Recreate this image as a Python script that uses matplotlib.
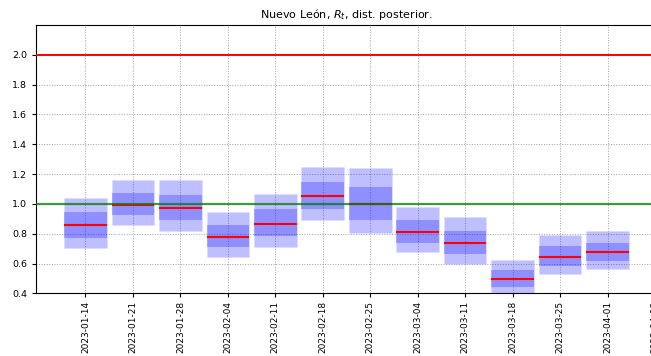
import numpy as np
import matplotlib
matplotlib.use('Agg')
from matplotlib import pyplot as plt
import matplotlib.dates as mdates

# weekly posterior summaries of R_t
fechas = ['2023-01-14', '2023-01-21', '2023-01-28', '2023-02-04', '2023-02-11', '2023-02-18',
          '2023-02-25', '2023-03-04', '2023-03-11', '2023-03-18', '2023-03-25', '2023-04-01']
q05 = [0.707, 0.859, 0.819, 0.646, 0.709, 0.893, 0.807, 0.676, 0.595, 0.380, 0.528, 0.562]
q25 = [0.774, 0.926, 0.893, 0.709, 0.785, 0.968, 0.893, 0.740, 0.662, 0.443, 0.584, 0.617]
q50 = [0.857, 0.995, 0.971, 0.779, 0.868, 1.054, 0.998, 0.812, 0.738, 0.495, 0.644, 0.676]
q75 = [0.944, 1.072, 1.060, 0.857, 0.964, 1.148, 1.114, 0.893, 0.821, 0.555, 0.718, 0.740]
q95 = [1.038, 1.159, 1.159, 0.944, 1.069, 1.246, 1.240, 0.980, 0.913, 0.622, 0.794, 0.819]
ticks = ['2023-01-14', '2023-01-21', '2023-01-28', '2023-02-04', '2023-02-11', '2023-02-18',
         '2023-02-25', '2023-03-04', '2023-03-11', '2023-03-18', '2023-03-25', '2023-04-01',
         '2023-04-08']

x = mdates.datestr2num(fechas)
q05, q25, q50, q75, q95 = map(np.array, (q05, q25, q50, q75, q95))
w = 6.3  # box width in days

fig = plt.figure(figsize=(6.51, 3.56), dpi=100)
ax = fig.add_axes([36/651, 62.6/356, 621/651, 268.4/356])

ax.grid(linestyle=':', color='#a0a0a0', linewidth=0.7, zorder=0)
# outer band 5-95 and inner band 25-75
ax.bar(x, q95 - q05, bottom=q05, width=w, color='blue', alpha=0.25,
       edgecolor=(0.85, 0.85, 1.0), linewidth=0.8, zorder=2)
ax.bar(x, q75 - q25, bottom=q25, width=w, color='blue', alpha=0.25,
       linewidth=0, zorder=2)
ax.hlines(q50, x - w/2, x + w/2, color='red', linewidth=1.5, zorder=3)

ax.axhline(2.0, color='red', linewidth=1.4, zorder=3)
ax.axhline(1.0, color='green', alpha=0.75, linewidth=1.6, zorder=3)

ax.set_xlim(x[0] - 7.3, x[-1] + 7.3)
ax.set_ylim(0.4, 2.2)
ax.set_yticks(np.arange(0.4, 2.01, 0.2))
ax.set_xticks(mdates.datestr2num(ticks))
ax.xaxis.set_major_formatter(mdates.DateFormatter('%Y-%m-%d'))
ax.tick_params(axis='x', labelrotation=90, labelsize=6.5, length=3, pad=2.5)
ax.tick_params(axis='y', labelsize=6.8, length=3)
ax.set_title(r'Nuevo León, $R_t$, dist. posterior.', fontsize=8, pad=5)

fig.savefig('out.png', dpi=100)
